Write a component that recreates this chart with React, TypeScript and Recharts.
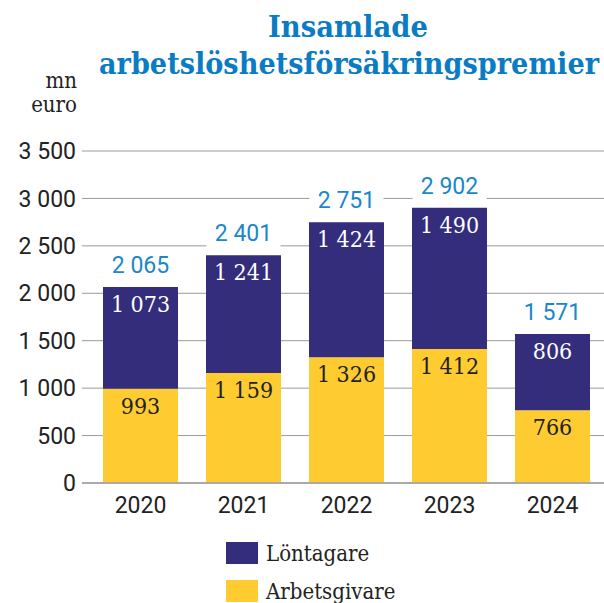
import React from "react";
import { BarChart, Bar, XAxis, YAxis, CartesianGrid, LabelList } from "recharts";

const years = ["2020", "2021", "2022", "2023", "2024"];
const lontagare = [1073, 1241, 1424, 1490, 806];
const arbetsgivare = [993, 1159, 1326, 1412, 766];
const totals = [2065, 2401, 2751, 2902, 1571];
const yTicks = [0, 500, 1000, 1500, 2000, 2500, 3000, 3500];

const data = years.map((year, i) => ({
  year,
  lontagare: lontagare[i],
  arbetsgivare: arbetsgivare[i],
  total: totals[i],
}));

const NAVY = "#332d7c";
const YELLOW = "#fecb31";
const BLUE = "#1a87cb";
const TITLE_BLUE = "#0a7cc3";
const TEXT = "#222222";
const SERIF = "'DejaVu Serif Condensed', 'DejaVu Serif', serif";
const SANS = "Roboto, sans-serif";

const fmt = (v: number) => String(v).replace(/\B(?=(\d{3})+(?!\d))/g, " ");

const renderInner = (color: string) => (props: any) => {
  const { x, y, width, value } = props;
  return (
    <text
      x={Number(x) + Number(width) / 2}
      y={Number(y) + 25}
      textAnchor="middle"
      fill={color}
      fontSize={23}
      fontFamily={SERIF}
    >
      {fmt(Number(value))}
    </text>
  );
};

const renderTotal = (props: any) => {
  const { x, y, width, value } = props;
  const cx = Number(x) + Number(width) / 2;
  const base = Number(y) - 14;
  const label = fmt(Number(value));
  const w = label.length * 12 + 14;
  return (
    <g>
      <rect x={cx - w / 2} y={base - 22} width={w} height={28} fill="#ffffff" />
      <text x={cx} y={base} textAnchor="middle" fill={BLUE} fontSize={23} fontFamily={SANS}>
        {label}
      </text>
    </g>
  );
};

export default function App() {
  return (
    <div style={{ position: "relative", width: 604, height: 603, overflow: "hidden", background: "#fff" }}>
      <style>{"body{margin:0}"}</style>
      <BarChart
        width={604}
        height={603}
        data={data}
        margin={{ top: 151, right: 0, left: 0, bottom: 80 }}
      >
        <CartesianGrid vertical={false} stroke="#9a9a9a" />
        <XAxis
          dataKey="year"
          height={40}
          padding={{ left: 7, right: 0 }}
          axisLine={{ stroke: "#aaaaaa", strokeWidth: 2 }}
          tickLine={false}
          tickMargin={8}
          tick={{ fill: TEXT, fontSize: 23, fontFamily: SANS }}
        />
        <YAxis
          width={82}
          domain={[0, 3500]}
          ticks={yTicks}
          interval={0}
          axisLine={false}
          tickLine={false}
          tickMargin={0}
          tickFormatter={fmt}
          tick={{ fill: TEXT, fontSize: 23, fontFamily: SANS }}
        />
        <Bar dataKey="arbetsgivare" stackId="a" fill={YELLOW} barSize={75} isAnimationActive={false}>
          <LabelList dataKey="arbetsgivare" content={renderInner(TEXT)} />
        </Bar>
        <Bar dataKey="lontagare" stackId="a" fill={NAVY} barSize={75} isAnimationActive={false}>
          <LabelList dataKey="lontagare" content={renderInner("#ffffff")} />
          <LabelList dataKey="total" content={renderTotal} />
        </Bar>
      </BarChart>
      <svg
        width={604}
        height={603}
        style={{ position: "absolute", left: 0, top: 0, pointerEvents: "none" }}
      >
        <text
          x={348}
          y={37}
          textAnchor="middle"
          fill={TITLE_BLUE}
          fontSize={30}
          fontWeight="bold"
          fontFamily={SERIF}
          textLength={160}
          lengthAdjust="spacingAndGlyphs"
        >
          Insamlade
        </text>
        <text
          x={349}
          y={74}
          textAnchor="middle"
          fill={TITLE_BLUE}
          fontSize={30}
          fontWeight="bold"
          fontFamily={SERIF}
          textLength={500}
          lengthAdjust="spacingAndGlyphs"
        >
          arbetslöshetsförsäkringspremier
        </text>
        <text x={77} y={88} textAnchor="end" fill={TEXT} fontSize={22} fontFamily={SERIF}>
          mn
        </text>
        <text x={77} y={112} textAnchor="end" fill={TEXT} fontSize={22} fontFamily={SERIF}>
          euro
        </text>
        <rect x={226} y={542} width={32} height={22} fill={NAVY} />
        <text x={266} y={561} fill={TEXT} fontSize={22} fontFamily={SERIF}>
          Löntagare
        </text>
        <rect x={226} y={580} width={32} height={22} fill={YELLOW} />
        <text x={266} y={599} fill={TEXT} fontSize={22} fontFamily={SERIF}>
          Arbetsgivare
        </text>
      </svg>
    </div>
  );
}
